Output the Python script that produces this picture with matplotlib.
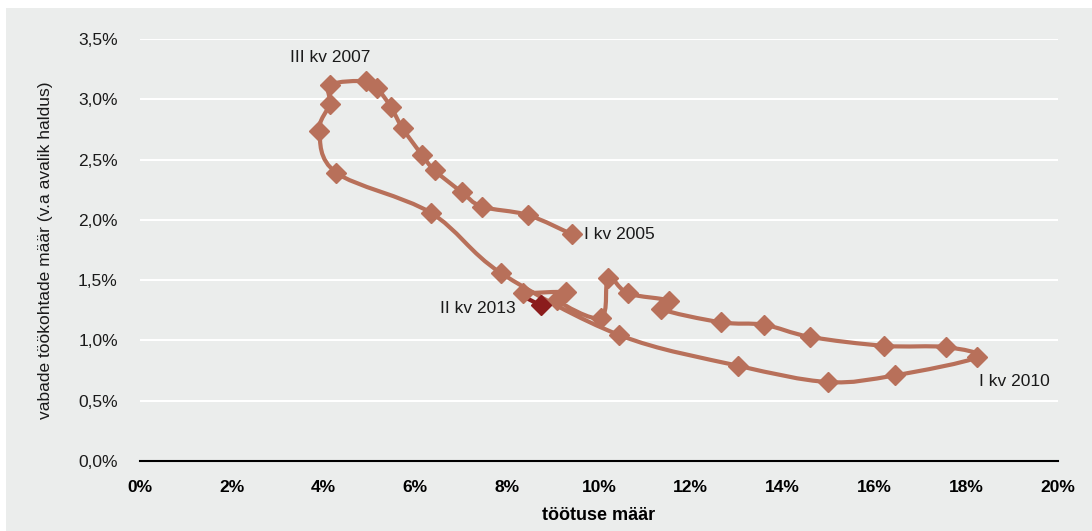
import matplotlib
matplotlib.use('Agg')
import matplotlib.pyplot as plt
from matplotlib.path import Path
from matplotlib.patches import PathPatch, Rectangle
from matplotlib.ticker import FuncFormatter, MultipleLocator
from matplotlib import font_manager

# töötuse määr (%) ja vabade töökohtade määr (%), I kv 2005 ... II kv 2013
unemployment = [9.41, 8.45, 7.45, 7.01, 6.42, 6.14, 5.72, 5.46, 5.17, 4.93,
                4.15, 4.13, 3.91, 4.28, 6.33, 7.86, 10.44, 13.03, 14.98, 16.44,
                18.23, 17.55, 16.22, 14.59, 13.60, 12.66, 11.35, 11.53, 10.63, 10.20,
                10.04, 9.08, 9.28, 8.34, 8.73]
vacancy = [1.88, 2.04, 2.11, 2.23, 2.41, 2.54, 2.76, 2.94, 3.09, 3.15,
           3.12, 2.96, 2.74, 2.39, 2.06, 1.56, 1.045, 0.79, 0.655, 0.71,
           0.86, 0.945, 0.955, 1.03, 1.13, 1.15, 1.26, 1.33, 1.39, 1.52,
           1.186, 1.335, 1.40, 1.39, 1.29]
point_labels = {0: 'I kv 2005', 10: 'III kv 2007', 20: 'I kv 2010', 34: 'II kv 2013'}

LINE_COLOR = '#b8705a'
LAST_COLOR = '#8b1c1c'
BG = '#ebedec'

names = {f.name for f in font_manager.fontManager.ttflist}
narrow = 'Liberation Sans Narrow' if 'Liberation Sans Narrow' in names else 'Liberation Sans'
plt.rcParams['font.family'] = ['Liberation Sans', 'DejaVu Sans']


def smooth_path(xs, ys):
    # Catmull-Rom -> Bezier, nagu Exceli silutud joon
    n = len(xs)
    pts = list(zip(xs, ys))
    verts = [pts[0]]
    codes = [Path.MOVETO]
    for i in range(n - 1):
        p0 = pts[i - 1] if i > 0 else pts[i]
        p1 = pts[i]
        p2 = pts[i + 1]
        p3 = pts[i + 2] if i + 2 < n else pts[i + 1]
        c1 = (p1[0] + (p2[0] - p0[0]) / 6, p1[1] + (p2[1] - p0[1]) / 6)
        c2 = (p2[0] - (p3[0] - p1[0]) / 6, p2[1] - (p3[1] - p1[1]) / 6)
        verts += [c1, c2, p2]
        codes += [Path.CURVE4] * 3
    return Path(verts, codes)


fig = plt.figure(figsize=(10.92, 5.31), dpi=100)
fig.patch.set_facecolor('white')
fig.add_artist(Rectangle((6 / 1092, 0), 1, 1 - 8 / 531, transform=fig.transFigure,
                         facecolor=BG, edgecolor='none', zorder=-10))
ax = fig.add_axes([140 / 1092, 1 - 461 / 531, 918 / 1092, 422 / 531])
ax.set_zorder(1)
ax.set_facecolor(BG)

ax.set_xlim(0, 20)
ax.set_ylim(0, 3.5)
ax.xaxis.set_major_locator(MultipleLocator(2))
ax.yaxis.set_major_locator(MultipleLocator(0.5))
ax.xaxis.set_major_formatter(FuncFormatter(lambda v, p: '{:.0f}%'.format(v)))
ax.yaxis.set_major_formatter(FuncFormatter(lambda v, p: '{:.1f}%'.format(v).replace('.', ',')))
ax.grid(axis='y', color='white', lw=1.5)
ax.set_axisbelow(True)
for s in ['top', 'right', 'left']:
    ax.spines[s].set_visible(False)
ax.spines['bottom'].set_color('black')
ax.spines['bottom'].set_linewidth(1.5)
ax.spines['bottom'].set_zorder(5)
ax.tick_params(length=0)
ax.tick_params(axis='y', pad=16, labelsize=12.5, labelcolor='#1a1a1a')
ax.tick_params(axis='x', pad=14, labelsize=12.5)
for t in ax.get_xticklabels():
    t.set_fontfamily(narrow)
    t.set_fontweight('bold')

# joon: kõik peale viimase lõigu, viimane lõik tumepunane
main = smooth_path(unemployment[:-1], vacancy[:-1])
ax.add_patch(PathPatch(main, facecolor='none', edgecolor=LINE_COLOR, lw=3, zorder=3,
                       capstyle='round', joinstyle='round'))
last = smooth_path(unemployment[-4:], vacancy[-4:])
last_verts = last.vertices[-4:]
ax.add_patch(PathPatch(Path(last_verts, [Path.MOVETO] + [Path.CURVE4] * 3), facecolor='none',
                       edgecolor=LAST_COLOR, lw=3, zorder=3))

ax.plot(unemployment[:-1], vacancy[:-1], ls='none', marker='D', ms=10,
        color=LINE_COLOR, zorder=4)
ax.plot(unemployment[-1:], vacancy[-1:], ls='none', marker='D', ms=10,
        color=LAST_COLOR, zorder=4)

offsets = {0: (12, 0, 'left'), 10: (0, 27, 'center'), 20: (2, -24, 'left'), 34: (-25, -3, 'right')}
for i, txt in point_labels.items():
    dx, dy, ha = offsets[i]
    ax.annotate(txt, (unemployment[i], vacancy[i]), xytext=(dx, dy), textcoords='offset pixels',
                ha=ha, va='center', fontsize=12.5, color='#1a1a1a', zorder=6)

ax.set_xlabel('töötuse määr', fontfamily=narrow, fontweight='bold', fontsize=13, labelpad=8)
ax.set_ylabel('vabade töökohtade määr (v.a avalik haldus)', fontsize=12.5, labelpad=18,
              color='#1a1a1a')

fig.savefig('out.png', dpi=100, facecolor=fig.get_facecolor())
